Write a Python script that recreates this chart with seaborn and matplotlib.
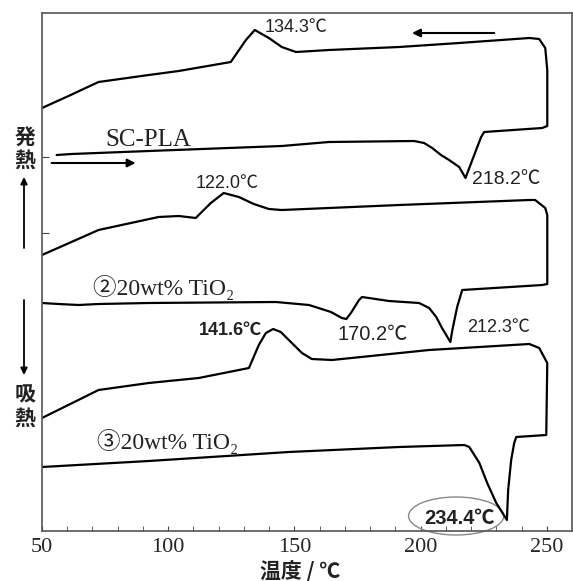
import matplotlib
matplotlib.use("Agg")
import matplotlib.pyplot as plt
from matplotlib.patches import Ellipse
import seaborn as sns

# DSC loops: heating path (low -> high T) followed by cooling path (high -> low T)
# sample 1: SC-PLA
t1 = [55.8, 61.7, 92.3, 145.0, 163.7, 197.4, 201.4, 204.6, 208.1, 211.3, 215.3, 217.8,
      222.0, 224.0, 225.2, 248.2, 250.2,
      250.2, 249.4, 247.0, 243.1, 215.3, 191.5, 163.7, 150.6, 145.0, 139.9, 134.3,
      130.8, 124.8, 104.2, 92.3, 72.4, 60.5, 50.0]
h1 = [37.6, 37.7, 38.0, 38.5, 38.9, 39.0, 38.8, 38.3, 37.6, 37.1, 36.4, 35.3,
      38.1, 39.4, 39.9, 40.3, 40.5,
      46.1, 48.3, 49.2, 49.3, 48.8, 48.4, 48.1, 47.9, 48.4, 49.3, 50.1,
      49.1, 46.9, 46.0, 45.6, 44.9, 43.5, 42.3]

# sample 2: 20wt% TiO2
t2 = [50.0, 56.5, 64.5, 72.4, 92.3, 142.7, 155.8, 164.5, 168.8, 170.6, 172.4, 175.6,
      176.8, 187.5, 199.4, 203.4, 206.2, 208.5, 211.8, 212.6, 214.5, 216.5, 248.2, 250.2,
      250.2, 249.4, 245.4, 243.1, 191.5, 163.7, 145.0, 139.9, 133.9, 128.0, 122.0,
      116.9, 110.9, 104.2, 96.2, 72.4, 50.0]
h2 = [22.8, 22.7, 22.6, 22.7, 22.8, 22.9, 22.6, 21.9, 21.3, 21.2, 21.8, 23.1,
      23.4, 23.0, 22.8, 22.3, 21.4, 20.3, 18.9, 20.1, 22.4, 24.1, 24.6, 24.7,
      31.6, 32.3, 33.1, 33.1, 32.6, 32.3, 32.1, 32.2, 32.7, 33.4, 33.8,
      32.8, 31.3, 31.5, 31.4, 30.1, 27.6]

# sample 3: 20wt% TiO2
t3 = [50.0, 92.3, 147.8, 191.5, 217.3, 219.3, 223.3, 226.4, 230.0, 234.2, 234.7, 235.9,
      237.1, 237.9, 249.8,
      250.2, 247.0, 243.1, 203.4, 164.9, 156.9, 153.0, 147.8, 144.6, 141.6, 138.7,
      135.9, 132.0, 112.1, 92.3, 72.4, 50.0]
h3 = [6.4, 7.0, 7.9, 8.4, 8.6, 8.4, 6.8, 4.8, 2.8, 1.1, 4.1, 7.1,
      8.8, 9.4, 9.6,
      16.8, 18.3, 18.7, 18.1, 17.1, 17.2, 17.8, 19.1, 19.9, 20.2, 19.8,
      18.6, 16.3, 15.3, 14.8, 14.1, 11.3]

# peak labels: text, left x, centre y, size, weight
peak_texts = ["134.3℃", "218.2℃", "122.0℃", "170.2℃", "212.3℃", "141.6℃", "234.4℃"]
peak_x = [138.3, 220.4, 110.9, 166.9, 218.5, 112.1, 201.4]
peak_y = [50.3, 35.1, 34.8, 19.6, 20.4, 20.1, 1.3]
peak_size = [13, 14, 13, 14.5, 13, 13, 14.5]
peak_weight = ["normal", "normal", "normal", "normal", "normal", "bold", "bold"]

sample_texts = ["SC-PLA", "②20wt% TiO₂", "③20wt% TiO₂"]
sample_x = [75.2, 70.4, 71.6]
sample_y = [39.1, 24.4, 8.9]
sample_size = [18, 17, 17]

xticks = [50, 100, 150, 200, 250]

sns.set_style("ticks")
plt.rcParams['font.family'] = ['Liberation Sans', 'Noto Sans CJK JP', 'DejaVu Sans']
serif = ['Liberation Serif', 'Noto Sans CJK JP', 'DejaVu Serif']
cjk = ['Noto Sans CJK JP', 'DejaVu Sans']
sans = ['Liberation Sans', 'Noto Sans CJK JP', 'DejaVu Sans']

fig = plt.figure(figsize=(5.73, 5.81), dpi=100)
ax = fig.add_axes([42 / 573, 50 / 581, 530 / 573, 518 / 581])

for t, h in [(t1, h1), (t2, h2), (t3, h3)]:
    sns.lineplot(x=t, y=h, sort=False, estimator=None, color='black', lw=1.6, ax=ax)

ax.set_xlim(50, 260)
ax.set_ylim(0, 51.8)
ax.set_xticks(xticks)
ax.set_xticklabels([str(v) for v in xticks], family=serif, fontsize=16)
ax.set_xticks(range(60, 260, 10), minor=True)
ax.set_yticks([29.8, 37.4])
ax.set_yticklabels([])
ax.tick_params(axis='x', which='both', direction='in', length=3.5, color='#444', pad=5)
ax.tick_params(axis='y', direction='in', length=5, color='#444')
for sp in ax.spines.values():
    sp.set_color('#555')
    sp.set_linewidth(1.2)

# annotations
for s, x, y, fs, fw in zip(peak_texts, peak_x, peak_y, peak_size, peak_weight):
    ax.text(x, y, s, ha='left', va='center', fontsize=fs, fontweight=fw, family=sans, color='#222')
for s, x, y, fs in zip(sample_texts, sample_x, sample_y, sample_size):
    ax.text(x, y, s, ha='left', va='center', fontsize=fs, family=serif, color='#222')

ax.add_patch(Ellipse((214.1, 1.5), 37.7, 3.8, fill=False, ec='#888', lw=1, clip_on=False))

arrow = dict(arrowstyle='-|>', color='black', lw=1.5, mutation_scale=12, shrinkA=0, shrinkB=0)
ax.annotate('', xy=(196.6, 49.8), xytext=(229.2, 49.8), arrowprops=arrow)
ax.annotate('', xy=(87.1, 36.8), xytext=(53.8, 36.8), arrowprops=arrow)

# exo / endo markers on the left
side = dict(ha='center', va='center', fontsize=15, family=cjk, fontweight='bold', color='#222')
fig.text(25 / 573, 1 - 137 / 581, '発', **side)
fig.text(25 / 573, 1 - 160 / 581, '熱', **side)
fig.text(25 / 573, 1 - 395 / 581, '吸', **side)
fig.text(25 / 573, 1 - 418 / 581, '熱', **side)
side_arrow = dict(arrowstyle='-|>', color='black', lw=1.3, mutation_scale=10, shrinkA=0, shrinkB=0)
ax.annotate('', xy=(24 / 573, 1 - 177 / 581), xytext=(24 / 573, 1 - 248 / 581),
            xycoords='figure fraction', textcoords='figure fraction', arrowprops=side_arrow,
            annotation_clip=False)
ax.annotate('', xy=(24 / 573, 1 - 375 / 581), xytext=(24 / 573, 1 - 300 / 581),
            xycoords='figure fraction', textcoords='figure fraction', arrowprops=side_arrow,
            annotation_clip=False)

ax.set_xlabel('温度 / ℃', family=cjk, fontsize=15, fontweight='bold', color='#222')
ax.xaxis.set_label_coords(0.487, -0.058)
ax.set_ylabel('')

fig.savefig('out.png', dpi=100)
